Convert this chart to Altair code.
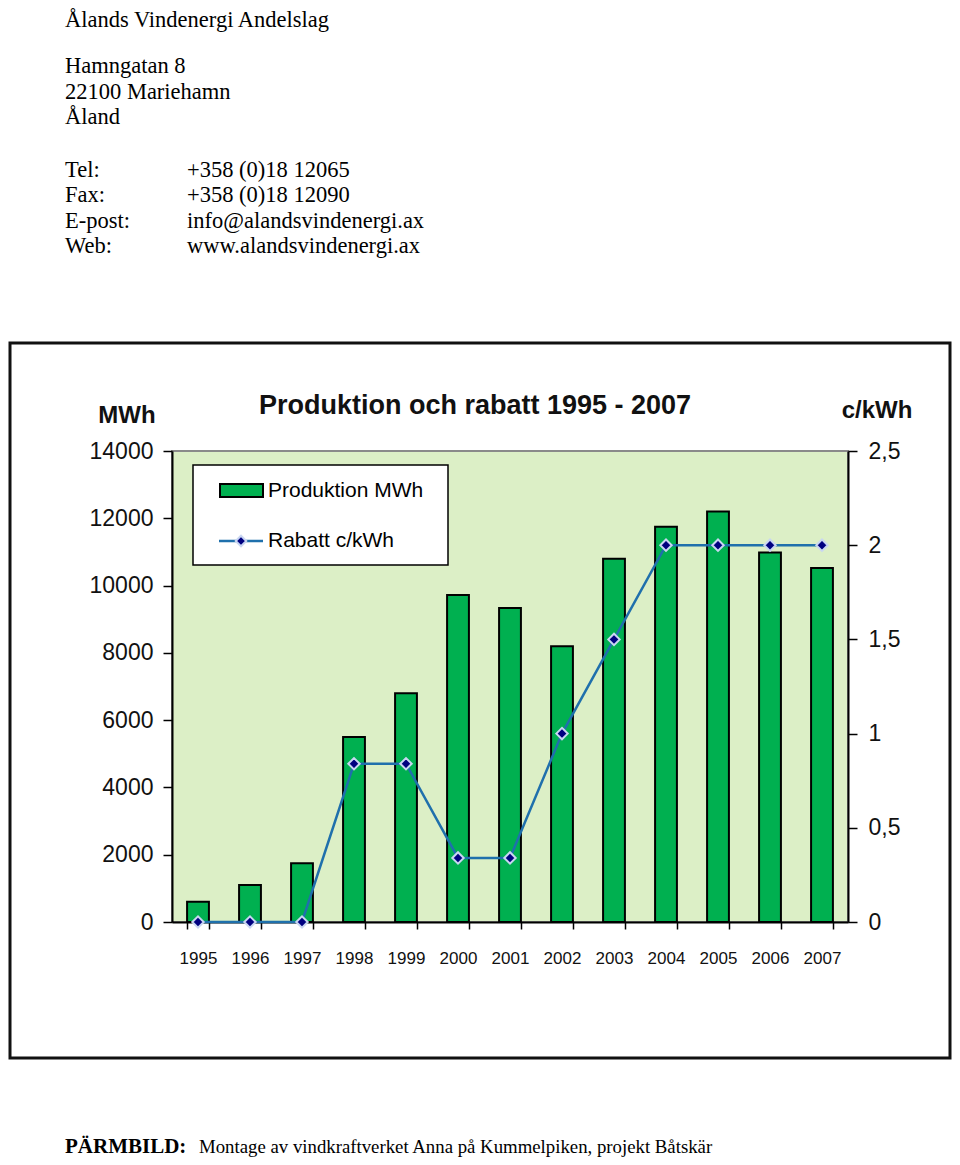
import altair as alt
import pandas as pd

# ---- data ----
years = ["1995", "1996", "1997", "1998", "1999", "2000", "2001",
         "2002", "2003", "2004", "2005", "2006", "2007"]
produktion_mwh = [600, 1100, 1750, 5500, 6800, 9720, 9330,
                  8200, 10800, 11750, 12200, 10980, 10520]
rabatt_c_kwh = [0, 0, 0, 0.84, 0.84, 0.34, 0.34,
                1.0, 1.5, 2.0, 2.0, 2.0, 2.0]
left_ticks = [0, 2000, 4000, 6000, 8000, 10000, 12000, 14000]
right_ticks = [0, 0.5, 1, 1.5, 2, 2.5]

header_lines = [
    ("Ålands Vindenergi Andelslag", ""),
    ("Hamngatan 8", ""),
    ("22100 Mariehamn", ""),
    ("Åland", ""),
    ("Tel:", "+358 (0)18 12065"),
    ("Fax:", "+358 (0)18 12090"),
    ("E-post:", "info@alandsvindenergi.ax"),
    ("Web:", "www.alandsvindenergi.ax"),
]
header_baselines = [27, 73, 99, 124, 177, 202, 228, 253]  # page px

df = pd.DataFrame({"year": years, "prod": produktion_mwh, "rab": rabatt_c_kwh})

W, H = 676, 471
PX, PY = 172, 451  # page position of plot origin
SERIF = "Liberation Serif"
SANS = "Liberation Sans"

one = alt.Data(values=[{"a": 1}])


def txt(s, px, py, size=20, font=SANS, weight="normal", align="left",
        baseline="alphabetic", color="black"):
    return alt.Chart(one).mark_text(
        text=s, font=font, fontSize=size, fontWeight=weight, align=align,
        baseline=baseline, color=color
    ).encode(x=alt.value(px - PX), y=alt.value(py - PY))


xenc = alt.X("year:N", sort=years,
             scale=alt.Scale(paddingInner=0.58, paddingOuter=0.29),
             axis=alt.Axis(title=None, labelFont=SANS, labelFontSize=17,
                           labelColor="#111", labelAngle=0, labelPadding=21,
                           domainColor="black", domainWidth=2,
                           tickColor="black", tickWidth=1.5, tickSize=7,
                           tickBand="extent", grid=False))

bars = alt.Chart(df).mark_bar(
    fill="#00B050", stroke="black", strokeWidth=2
).encode(
    x=xenc,
    y=alt.Y("prod:Q", scale=alt.Scale(domain=[0, 14000], nice=False),
            axis=alt.Axis(title=None, values=left_ticks, format="d",
                          labelFont=SANS, labelFontSize=23, labelColor="#111",
                          labelPadding=10, domainColor="black", domainWidth=2,
                          tickColor="black", tickWidth=1.5, tickSize=9,
                          grid=False)),
)

right_axis = alt.Axis(title=None, orient="right", values=right_ticks,
                      labelExpr="replace(format(datum.value, '~g'), '.', ',')",
                      labelFont=SANS, labelFontSize=23, labelColor="#111",
                      labelPadding=11, domainColor="black", domainWidth=2,
                      tickColor="black", tickWidth=1.5, tickSize=9,
                      grid=False)
right_scale = alt.Scale(domain=[0, 2.5], nice=False)

line = alt.Chart(df).mark_line(color="#1F70AC", strokeWidth=2.5).encode(
    x=alt.X("year:N", sort=years),
    y=alt.Y("rab:Q", scale=right_scale, axis=right_axis),
)
points = alt.Chart(df).mark_point(
    shape="diamond", filled=True, fill="#000080", stroke="#C9D6F2",
    strokeWidth=2, size=130, opacity=1
).encode(
    x=alt.X("year:N", sort=years),
    y=alt.Y("rab:Q", scale=right_scale, axis=right_axis),
)

right_layer = alt.layer(line, points)

# legend (manual)
leg_box = alt.Chart(one).mark_rect(fill="white", stroke="black", strokeWidth=1.5).encode(
    x=alt.value(193 - PX), x2=alt.value(448 - PX),
    y=alt.value(465 - PY), y2=alt.value(565 - PY))
leg_bar = alt.Chart(one).mark_rect(fill="#00B050", stroke="black", strokeWidth=2).encode(
    x=alt.value(220 - PX), x2=alt.value(263 - PX),
    y=alt.value(484 - PY), y2=alt.value(497 - PY))
leg_line = alt.Chart(one).mark_rule(color="#1F70AC", strokeWidth=2.5).encode(
    x=alt.value(219 - PX), x2=alt.value(263 - PX), y=alt.value(541 - PY))
leg_pt = alt.Chart(one).mark_point(
    shape="diamond", filled=True, fill="#000080", stroke="#C9D6F2",
    strokeWidth=2, size=110, opacity=1
).encode(x=alt.value(241 - PX), y=alt.value(541 - PY))
leg_t1 = txt("Produktion MWh", 268, 491, size=21, baseline="middle")
leg_t2 = txt("Rabatt c/kWh", 268, 541, size=21, baseline="middle")

# outer chart frame
frame = alt.Chart(one).mark_rect(fill=None, stroke="#111", strokeWidth=3).encode(
    x=alt.value(10 - PX), x2=alt.value(950 - PX),
    y=alt.value(343 - PY), y2=alt.value(1058 - PY))

title = txt("Produktion och rabatt 1995 - 2007", 475, 406, size=27,
            weight="bold", align="center", baseline="middle", color="#111")
mwh = txt("MWh", 127, 416, size=24, weight="bold", align="center",
          baseline="middle", color="#111")
ckwh = txt("c/kWh", 877, 411, size=24, weight="bold", align="center",
           baseline="middle", color="#111")

header = []
for (a, b), yb in zip(header_lines, header_baselines):
    header.append(txt(a, 65, yb, size=22.5, font=SERIF))
    if b:
        header.append(txt(b, 187, yb, size=22.5, font=SERIF))

footer1 = txt("PÄRMBILD:", 65, 1153, size=21, font=SERIF, weight="bold")
footer2 = txt("Montage av vindkraftverket Anna på Kummelpiken, projekt Båtskär",
              199, 1153, size=18.8, font=SERIF)

main = alt.layer(bars, right_layer).resolve_scale(y="independent")

chart = alt.layer(
    frame, main, leg_box, leg_bar, leg_line, leg_pt, leg_t1, leg_t2,
    title, mwh, ckwh, *header, footer1, footer2
).properties(
    width=W, height=H,
    autosize=alt.AutoSizeParams(type="none"),
    padding={"left": PX - 8, "top": PY - 8,
             "right": 960 - 8 - PX - W, "bottom": 1165 - 8 - PY - H},
    background="white",
).configure_view(
    fill="#DCEFC6", stroke="#8A8A8A", strokeWidth=2
)

chart.save("out.html", embed_options={"renderer": "svg", "actions": False})
